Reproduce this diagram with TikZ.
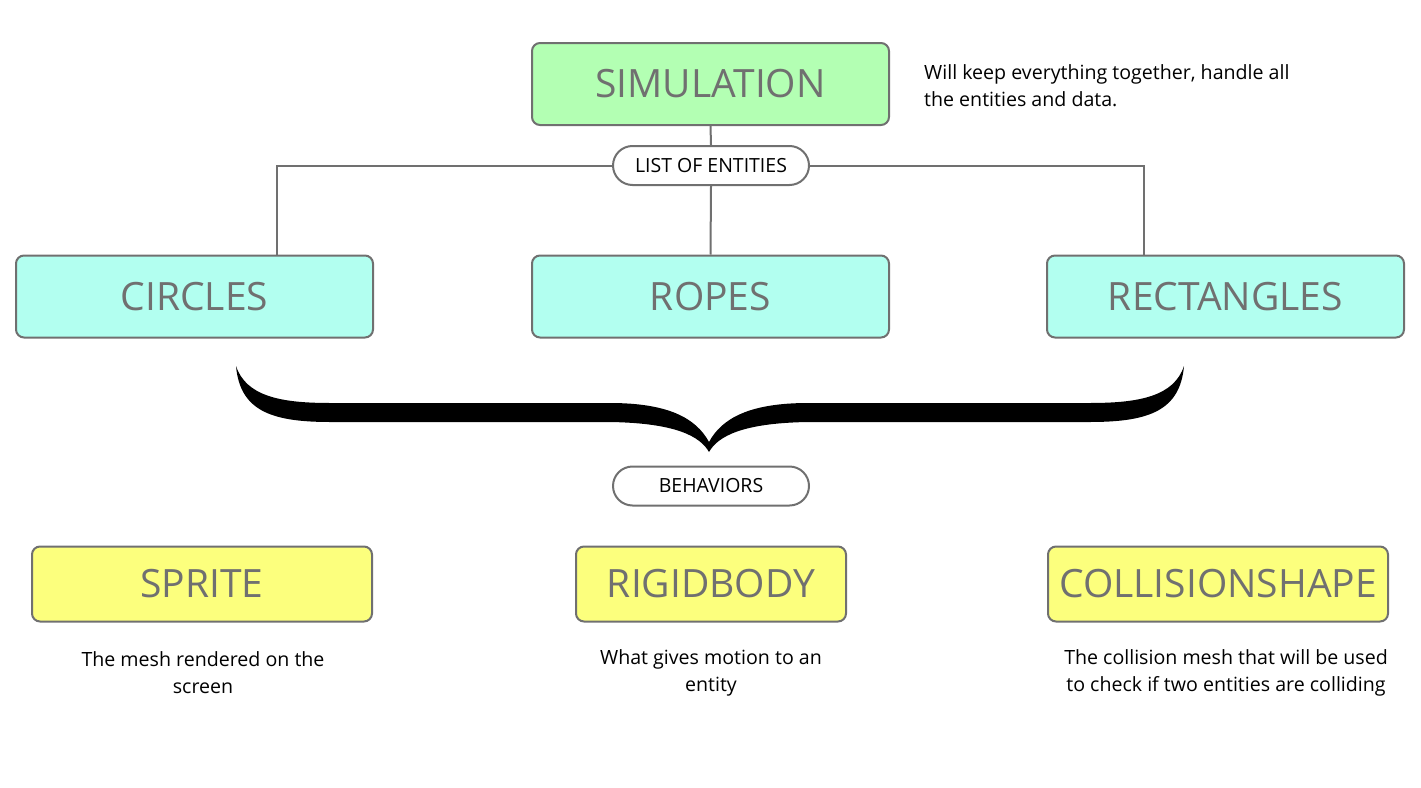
\documentclass[tikz,border=0pt]{standalone}
\usepackage{fontspec}
\setmainfont{Open Sans}
\usepackage{tikz}
\usetikzlibrary{shapes.misc}
\definecolor{linegray}{RGB}{112,112,112}
\definecolor{simgreen}{RGB}{179,255,179}
\definecolor{entcyan}{RGB}{178,255,240}
\definecolor{behyellow}{RGB}{252,255,125}
\tikzset{
    box/.style={draw=linegray, line width=2pt, rounded corners=8pt,
        minimum height=82pt, minimum width=357pt, inner sep=0pt,
        text=linegray, font=\fontsize{39}{42}\selectfont},
    behbox/.style={box, fill=behyellow, minimum height=75pt},
    pill/.style={draw=linegray, line width=2pt, rounded rectangle,
        minimum width=196pt, minimum height=39pt, inner sep=0pt,
        font=\fontsize{19.5}{21}\selectfont},
    note/.style={align=center, inner sep=0pt, font=\fontsize{19.6}{27}\selectfont},
    conn/.style={draw=linegray, line width=2pt},
}
\begin{document}
\begin{tikzpicture}[x=1pt, y=-1pt]
\useasboundingbox (0,0) rectangle (1421,787);
% top
\node[box, fill=simgreen] (sim) at (710.5,84) {SIMULATION};
\node[note, align=left, anchor=west] (simnote) at (924,86)
    {Will keep everything together, handle all\\the entities and data.};
\node[pill] (list) at (711,165.5) {LIST OF ENTITIES};
% entities
\node[box, fill=entcyan] (circles) at (194.5,296.5) {CIRCLES};
\node[box, fill=entcyan] (ropes) at (710.5,296.5) {ROPES};
\node[box, fill=entcyan] (rects) at (1225.5,296.5) {RECTANGLES};
\draw[conn] (sim.south) -- (list.north);
\draw[conn] (list.south) -- (ropes.north);
\draw[conn] (list.west) -| ([xshift=82.5pt]circles.north);
\draw[conn] (list.east) -| ([xshift=-81.5pt]rects.north);
% brace
\fill[black] (236,366) .. controls (240,410) and (270,422) .. (330,422)
    -- (610,422) .. controls (675,423) and (700,436) .. (709,452)
    .. controls (718,436) and (743,423) .. (808,422)
    -- (1090,422) .. controls (1150,422) and (1180,410) .. (1184,366)
    .. controls (1174,396) and (1140,403) .. (1090,403)
    -- (808,403) .. controls (750,403) and (722,418) .. (709,442)
    .. controls (696,418) and (668,403) .. (610,403)
    -- (330,403) .. controls (280,403) and (246,396) .. (236,366) -- cycle;
\node[pill] (behav) at (711,486) {BEHAVIORS};
% behaviors
\node[behbox, minimum width=340pt] (sprite) at (202,584) {SPRITE};
\node[behbox, minimum width=270pt] (rigid) at (711,584) {RIGIDBODY};
\node[behbox, minimum width=340pt] (colshape) at (1218,584) {COLLISIONSHAPE};
\node[note] (spritenote) at (203,673) {The mesh rendered on the\\screen};
\node[note] (rigidnote) at (711,673) {What gives motion to an\\entity};
\node[note] (colnote) at (1226,673)
    {The collision mesh that will be used\\to check if two entities are colliding};
\end{tikzpicture}
\end{document}
